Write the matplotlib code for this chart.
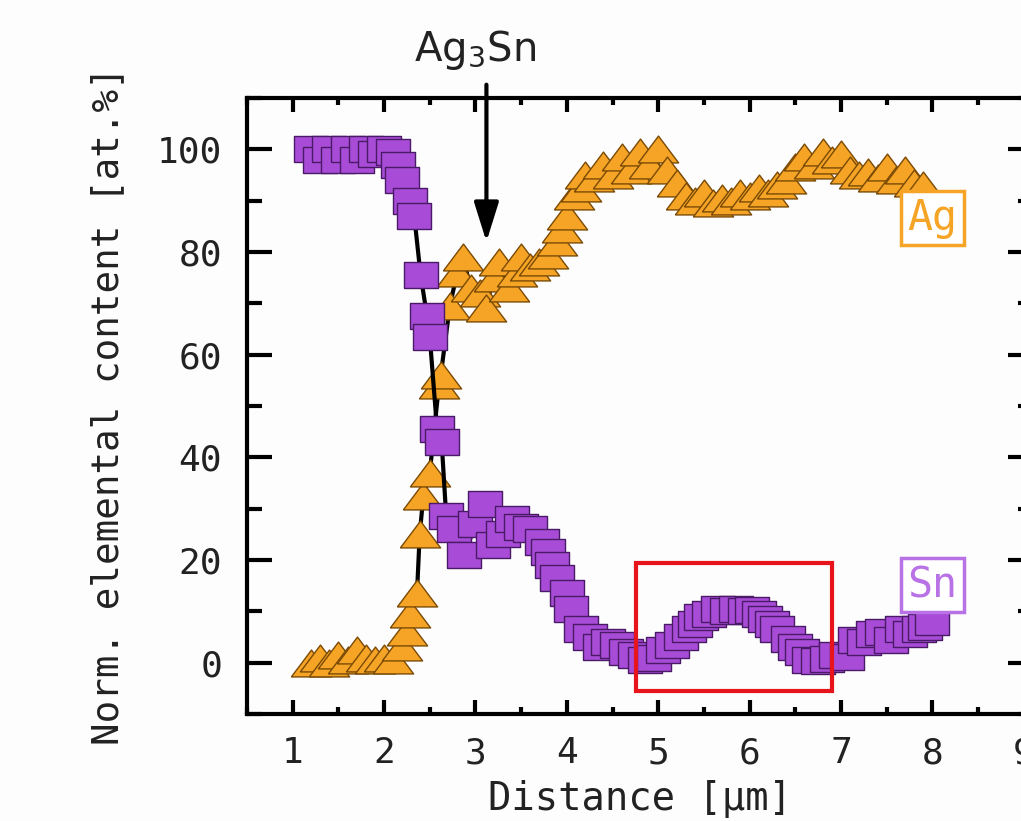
import numpy as np
import matplotlib
matplotlib.use("Agg")
import matplotlib.pyplot as plt
from matplotlib.patches import Rectangle
from matplotlib.ticker import MultipleLocator

# Sn profile (squares)
sn_x = [1.2, 1.3, 1.4, 1.5, 1.6, 1.7, 1.8, 1.9, 2.0, 2.1, 2.15, 2.2, 2.28, 2.33,
        2.4, 2.47, 2.5, 2.58, 2.63, 2.68, 2.77, 2.88, 3.0, 3.1, 3.19, 3.3, 3.4,
        3.5, 3.6, 3.73, 3.79, 3.84, 3.89, 4.0, 4.05, 4.16, 4.25, 4.36, 4.45,
        4.55, 4.65, 4.75, 4.85, 4.95, 5.05, 5.15, 5.25, 5.34, 5.4, 5.47, 5.55,
        5.65, 5.75, 5.85, 5.95, 6.03, 6.1, 6.17, 6.25, 6.3, 6.42, 6.5, 6.57,
        6.65, 6.75, 6.85, 6.95, 7.06, 7.15, 7.25, 7.35, 7.45, 7.55, 7.67, 7.75,
        7.85, 7.92, 8.0]
sn_y = [100, 98, 100, 98, 100, 98, 100, 99, 100, 99.5, 97, 94, 90, 87,
        75.5, 67.5, 63.5, 45.5, 43, 28.5, 26, 21, 27, 31, 23, 25, 28,
        26.5, 26, 23.5, 21.5, 19, 16.5, 13.5, 10.5, 6.5, 5, 3, 4,
        3.5, 2, 1.5, 0.5, 1, 2.5, 3.5, 5, 6.6, 7.5, 8.9, 9.5,
        10.5, 10, 10.5, 10, 10.3, 9.5, 8.5, 7.5, 6.6, 4.7, 3, 2.1,
        0.5, 0.3, 0.8, 1.5, 1.2, 4.5, 4, 5.5, 6, 4.5, 6.5, 5.5,
        6.6, 7, 8]

# Ag profile (triangles)
ag_x = [1.2, 1.3, 1.4, 1.5, 1.6, 1.7, 1.8, 1.9, 2.0, 2.1, 2.2, 2.25, 2.28,
        2.36, 2.39, 2.43, 2.5, 2.6, 2.62, 2.72, 2.8, 2.86, 2.95, 3.05, 3.11,
        3.2, 3.26, 3.37, 3.45, 3.5, 3.6, 3.7, 3.79, 3.89, 3.95, 4.0, 4.08,
        4.15, 4.2, 4.3, 4.4, 4.5, 4.6, 4.7, 4.8, 4.9, 5.0, 5.1, 5.2, 5.3,
        5.4, 5.5, 5.6, 5.7, 5.8, 5.9, 6.0, 6.1, 6.2, 6.3, 6.4, 6.5, 6.6,
        6.7, 6.8, 6.9, 7.0, 7.1, 7.2, 7.3, 7.4, 7.5, 7.6, 7.7, 7.8, 7.9]
ag_y = [0, 1, 0, 1.5, 0.5, 2.5, 1, 0.5, 1, 0.5, 3, 6, 9.5,
        13.5, 25, 32.5, 37, 54, 56, 69.5, 76, 79, 73, 72, 69,
        75, 78, 73, 76, 79, 77, 78, 79.5, 82, 84.5, 87, 91,
        92.5, 95, 94.5, 97, 95, 98.5, 96, 99.5, 97, 100, 96, 93.5, 91,
        90, 91.5, 89.5, 90.5, 90, 91.5, 91, 92.5, 91.5, 93, 94, 96.5, 98.5,
        97, 99.5, 98, 99, 96, 95, 95.5, 94.5, 96.5, 94, 96, 93.5, 93]

x_ticks = [1, 2, 3, 4, 5, 6, 7, 8, 9]
y_ticks = [0, 20, 40, 60, 80, 100]

orange = "#F5A425"
orange_edge = "#7A4A05"
purple = "#A84CD8"
purple_edge = "#4A1A66"
sn_label_color = "#B872E6"
mono = "DejaVu Sans Mono"

# stretched marker shapes (the source image is wider than tall)
sq_marker = [(-0.66, -0.5), (0.66, -0.5), (0.66, 0.5), (-0.66, 0.5), (-0.66, -0.5)]
tri_marker = [(-0.75, -0.5), (0.75, -0.5), (0.0, 0.5), (-0.75, -0.5)]

fig = plt.figure(figsize=(10.21, 8.21), dpi=100)
fig.patch.set_facecolor("#FDFDFD")
ax = fig.add_axes([0.2419, 0.1303, 0.7698, 0.7503])
ax.set_facecolor("#FDFDFD")

ax.plot(ag_x, ag_y, color="k", lw=3, marker=tri_marker, ms=29,
        mfc=orange, mec=orange_edge, mew=1.0, zorder=3)
ax.plot(sn_x, sn_y, color="k", lw=3, marker=sq_marker, ms=24,
        mfc=purple, mec=purple_edge, mew=1.0, zorder=4)

ax.add_patch(Rectangle((4.76, -5.6), 2.14, 25.0, fill=False,
                       ec="#E8141B", lw=3, zorder=6))

ax.text(8.0, 86.6, "Ag", fontsize=30, family=mono, color=orange,
        ha="center", va="center", zorder=7,
        bbox=dict(boxstyle="square,pad=0.15", fc="white", ec=orange, lw=2.5))
ax.text(8.0, 15.1, "Sn", fontsize=30, family=mono, color=sn_label_color,
        ha="center", va="center", zorder=7,
        bbox=dict(boxstyle="square,pad=0.15", fc="white", ec=sn_label_color, lw=2.5))

ax.annotate("", xy=(3.12, 82), xytext=(3.12, 112.6), annotation_clip=False,
            arrowprops=dict(arrowstyle="-|>,head_length=2.4,head_width=0.75",
                            color="k", lw=3, shrinkA=0, shrinkB=0), zorder=8)
ax.text(2.99, 119.3, r"Ag$_3$Sn", fontsize=29, color="#222222",
        ha="center", va="center", clip_on=False)

ax.set_xlim(0.5, 9.1)
ax.set_ylim(-10, 110)
ax.set_xticks(x_ticks)
ax.set_yticks(y_ticks)
ax.xaxis.set_minor_locator(MultipleLocator(0.5))
ax.yaxis.set_minor_locator(MultipleLocator(10))

for s in ax.spines.values():
    s.set_linewidth(3)
ax.tick_params(axis="y", which="major", direction="in", length=18, width=3,
               left=True, right=True, pad=18, labelsize=26)
ax.tick_params(axis="y", which="minor", direction="in", length=11, width=3,
               left=True, right=True)
ax.tick_params(axis="x", which="major", direction="in", length=10, width=3,
               top=True, bottom=True, pad=16, labelsize=26)
ax.tick_params(axis="x", which="minor", direction="in", length=5, width=3,
               top=True, bottom=True)
for lab in ax.get_xticklabels() + ax.get_yticklabels():
    lab.set_family(mono)
    lab.set_color("#222222")

ax.set_xlabel("Distance [µm]", fontsize=28, family=mono, color="#222222",
              labelpad=7)
ax.set_ylabel("Norm. elemental content [at.%]", fontsize=27, family=mono,
              color="#222222", labelpad=22)

fig.savefig("out.png", dpi=100, facecolor=fig.get_facecolor())
